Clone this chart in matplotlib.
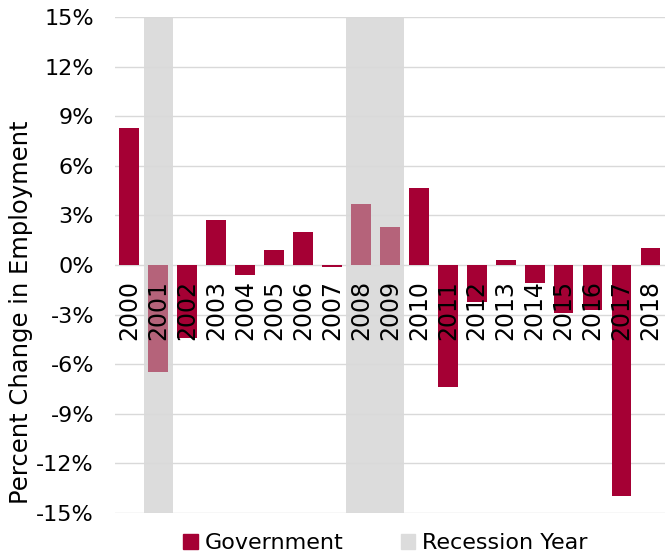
import numpy as np
import matplotlib.pyplot as plt
from matplotlib.patches import Patch

years = [str(y) for y in range(2000, 2019)]
change = [8.3, -6.5, -4.4, 2.7, -0.6, 0.9, 2.0, -0.1, 3.7, 2.3,
          4.65, -7.35, -2.25, 0.3, -1.1, -2.9, -2.7, -14.0, 1.0]
recession = ["2001", "2008", "2009"]
yticks = [-15, -12, -9, -6, -3, 0, 3, 6, 9, 12, 15]

gov_color = "#A50034"
rec_bar_color = "#B5637A"
shade_color = "#DCDCDC"

fig = plt.figure(figsize=(6.67, 5.58), dpi=100)
ax = fig.add_axes([0.172, 0.0806, 0.825, 0.889])

x = np.arange(len(years))
colors = [rec_bar_color if y in recession else gov_color for y in years]

# recession shading
for i, y in enumerate(years):
    if y in recession:
        ax.axvspan(i - 0.5, i + 0.5, color=shade_color, zorder=0, lw=0)

ax.bar(x, change, width=0.68, color=colors, zorder=2)

# year labels sitting below the zero line
for i, y in enumerate(years):
    ax.text(i, -0.9, y, rotation=90, ha="center", va="top", fontsize=17, zorder=3)

ax.set_ylim(-15, 15)
ax.set_xlim(-0.5, len(years) - 0.5)
ax.set_yticks(yticks)
ax.set_yticklabels([f"{t}%" for t in yticks], fontsize=16)
ax.set_xticks([])
ax.tick_params(axis="y", length=0, pad=15)
ax.grid(axis="y", color="#D9D9D9", lw=1, zorder=1)
ax.set_axisbelow(True)
for s in ax.spines.values():
    s.set_visible(False)
ax.set_ylabel("Percent Change in Employment", fontsize=17.5)
ax.yaxis.set_label_coords(-0.149, 0.405)

handles = [Patch(color=gov_color, label="Government"),
           Patch(color=shade_color, label="Recession Year")]
fig.legend(handles=handles, loc="lower center", bbox_to_anchor=(0.578, -0.027),
           ncol=2, frameon=False, fontsize=16, handlelength=0.65, handleheight=0.65,
           handletextpad=0.3, columnspacing=2.6)

fig.savefig("out.png", dpi=100)
